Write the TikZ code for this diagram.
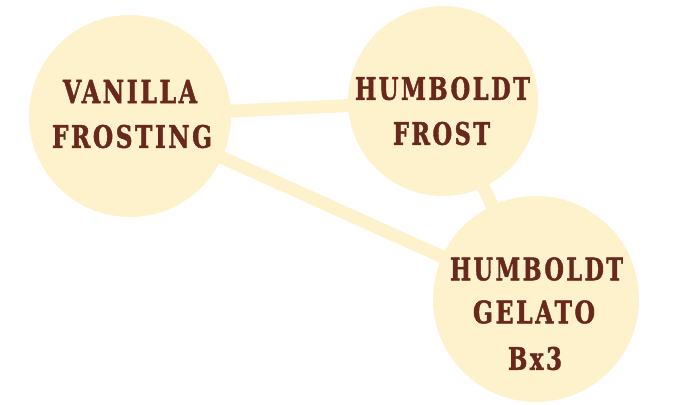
\documentclass[tikz,border=0pt]{standalone}
\usepackage{fontspec}
\usepackage{graphicx}
\newfontfamily\woodfont[LetterSpace=10,FakeBold=1.6]{DejaVu Serif Condensed Bold}
\definecolor{cream}{RGB}{254,242,204}
\definecolor{inkbrown}{RGB}{104,40,28}
\newcommand{\fitline}[2]{\resizebox{#1pt}{23pt}{\woodfont #2}}
\tikzset{
  bubble/.style={circle, fill=cream, draw=none, inner sep=0pt},
  link/.style={draw=cream, line width=13pt},
  word/.style={inner sep=0pt, text=inkbrown, anchor=center}
}
\begin{document}
\begin{tikzpicture}[x=1pt, y=-1pt]
\useasboundingbox (0,0) rectangle (700,404);
% circles
\node[bubble, minimum size=202pt] (c1) at (130,116) {};
\node[bubble, minimum size=190pt] (c2) at (443,101) {};
\node[bubble, minimum size=206pt] (c3) at (536,299) {};
% connectors
\draw[link] (c1.center) -- (c2.center);
\draw[link] (c1.center) -- (c3.center);
\draw[link] (c2.center) -- (c3.center);
% labels
\node[word] (t1a) at (130,91.5) {\fitline{134}{VANILLA}};
\node[word] (t1b) at (132,136.5) {\fitline{160}{FROSTING}};
\node[word] (t2a) at (442.5,88.5) {\fitline{175}{HUMBOLDT}};
\node[word] (t2b) at (441.5,133.5) {\fitline{97}{FROST}};
\node[word] (t3a) at (536.5,269) {\fitline{173}{HUMBOLDT}};
\node[word] (t3b) at (534,312) {\fitline{122}{GELATO}};
\node[word] (t3c) at (535,358.5) {\fitline{54}{Bx3}};
\end{tikzpicture}
\end{document}
